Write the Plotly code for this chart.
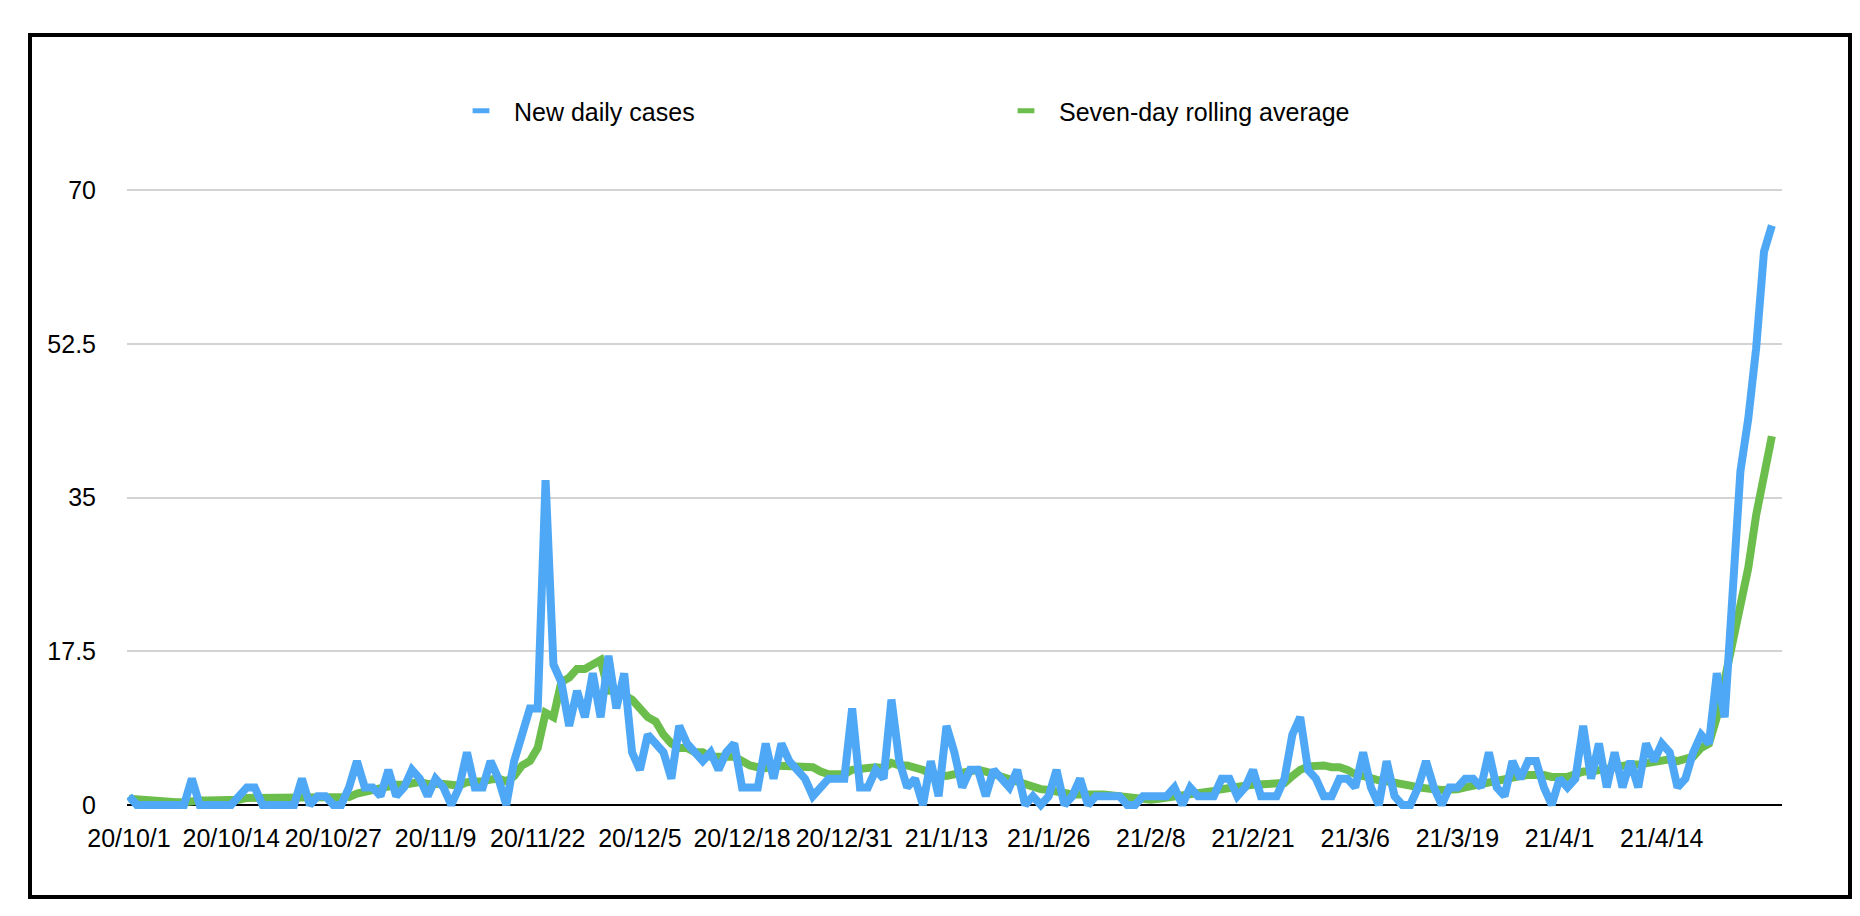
import pandas as pd
import plotly.graph_objects as go

start_date = "2020-10-01"
n_days = 210

new_daily_cases = [
    1, 0, 0, 0, 0, 0, 0, 0, 3, 0,
    0, 0, 0, 0, 1, 2, 2, 0, 0, 0,
    0, 0, 3, 0, 1, 1, 0, 0, 2, 5,
    2, 2, 1, 4, 1, 2, 4, 3, 1, 3,
    2, 0, 2, 6, 2, 2, 5, 3, 0, 5,
    8, 11, 11, 37, 16, 14, 9, 13, 10, 15,
    10, 17, 11, 15, 6, 4, 8, 7, 6, 3,
    9, 7, 6, 5, 6, 4, 6, 7, 2, 2,
    2, 7, 3, 7, 5, 4, 3, 1, 2, 3,
    3, 3, 11, 2, 2, 4, 3, 12, 5, 2,
    3, 0, 5, 1, 9, 6, 2, 4, 4, 1,
    4, 3, 2, 4, 0, 1, 0, 1, 4, 0,
    1, 3, 0, 1, 1, 1, 1, 0, 0, 1,
    1, 1, 1, 2, 0, 2, 1, 1, 1, 3,
    3, 1, 2, 4, 1, 1, 1, 3, 8, 10,
    4, 3, 1, 1, 3, 3, 2, 6, 2, 0,
    5, 1, 0, 0, 2, 5, 2, 0, 2, 2,
    3, 3, 2, 6, 2, 1, 5, 3, 5, 5,
    2, 0, 3, 2, 3, 9, 3, 7, 2, 6,
    2, 5, 2, 7, 5, 7, 6, 2, 3, 6,
    8, 7, 15, 10, 26, 38, 44, 52, 63, 66,
]

seven_day_average = [
    0.7, 0.6, 0.6, 0.6, 0.5, 0.4, 0.3, 0.3, 0.5, 0.5,
    0.5, 0.5, 0.5, 0.5, 0.6, 0.8, 0.8, 0.8, 0.8, 0.7,
    0.7, 0.7, 0.8, 0.7, 0.8, 0.8, 0.7, 0.7, 0.9, 1.3,
    1.5, 1.7, 1.8, 2.2, 2.3, 2.3, 2.4, 2.6, 2.4, 2.5,
    2.4, 2.3, 2.2, 2.6, 2.6, 2.7, 2.9, 3.0, 2.7, 3.3,
    4.5, 5.0, 6.5, 10.5, 10.0, 14.0, 14.5, 15.5, 15.5, 16.0,
    16.5, 13.0, 13.0, 12.5, 12.0, 11.0, 10.0, 9.5, 8.0, 7.0,
    6.5, 6.5, 6.0, 6.0, 5.5, 5.5, 5.5, 5.5, 5.0, 4.5,
    4.3, 4.2, 4.5, 4.5, 4.5, 4.5, 4.5, 4.3, 3.8, 3.5,
    3.5, 3.5, 4.0, 4.0, 4.2, 4.3, 4.2, 4.8, 4.5, 4.5,
    4.3, 4.0, 3.5, 3.3, 3.3, 3.5, 3.7, 3.8, 4.0, 3.8,
    3.5, 3.2, 3.0, 2.8, 2.5, 2.0, 1.8, 1.7, 1.5, 1.3,
    1.2, 1.2, 1.3, 1.2, 1.2, 1.1, 1.1, 1.0, 0.8, 0.6,
    0.6, 0.7, 0.8, 1.0, 1.1, 1.2, 1.3, 1.4, 1.6, 1.8,
    2.0, 2.1, 2.2, 2.3, 2.3, 2.3, 2.4, 2.5, 3.3, 4.0,
    4.4, 4.5, 4.5, 4.3, 4.3, 4.0, 3.5, 3.3, 3.0, 2.8,
    2.7, 2.6, 2.4, 2.2, 2.0, 2.0, 1.8, 1.7, 1.7, 1.8,
    2.0, 2.2, 2.5, 2.7, 2.8, 3.0, 3.1, 3.3, 3.4, 3.5,
    3.4, 3.2, 3.1, 3.2, 3.5, 3.8, 3.8, 4.0, 4.2, 4.3,
    4.5, 4.6, 4.6, 4.7, 4.8, 5.0, 5.2, 5.0, 5.2, 5.5,
    6.5, 7.0, 10.0, 14.0, 18.0, 22.0, 27.0, 33.0, 38.0, 42.0,
]

x_tick_dates = ["2020-10-01", "2020-10-14", "2020-10-27", "2020-11-09", "2020-11-22",
                "2020-12-05", "2020-12-18", "2020-12-31", "2021-01-13", "2021-01-26",
                "2021-02-08", "2021-02-21", "2021-03-06", "2021-03-19", "2021-04-01",
                "2021-04-14"]
x_tick_labels = ["20/10/1", "20/10/14", "20/10/27", "20/11/9", "20/11/22", "20/12/5",
                 "20/12/18", "20/12/31", "21/1/13", "21/1/26", "21/2/8", "21/2/21",
                 "21/3/6", "21/3/19", "21/4/1", "21/4/14"]
y_tick_vals = [0, 17.5, 35, 52.5, 70]
y_tick_labels = ["0", "17.5", "35", "52.5", "70"]

dates = pd.date_range(start_date, periods=n_days, freq="D")

BLUE = "#4fa8f6"
GREEN = "#6bbd4c"
W, H = 1860, 916
ML, MR, MT, MB = 119, 86, 178, 112
FONT = "Liberation Sans, Arial, Helvetica, sans-serif"

fig = go.Figure()
fig.add_trace(go.Scatter(x=dates, y=seven_day_average, mode="lines",
                         line=dict(color=GREEN, width=8), showlegend=False,
                         name="Seven-day rolling average"))
fig.add_trace(go.Scatter(x=dates, y=new_daily_cases, mode="lines",
                         line=dict(color=BLUE, width=8), showlegend=False,
                         name="New daily cases"))
# legend entries
fig.add_trace(go.Scatter(x=[None], y=[None], mode="markers", name="New daily cases",
                         marker=dict(symbol="line-ew", size=12, color=BLUE,
                                     line=dict(width=6, color=BLUE)),
                         legend="legend"))
fig.add_trace(go.Scatter(x=[None], y=[None], mode="markers", name="Seven-day rolling average",
                         marker=dict(symbol="line-ew", size=12, color=GREEN,
                                     line=dict(width=6, color=GREEN)),
                         legend="legend2"))

plot_w = W - ML - MR
plot_h = H - MT - MB

def px_x(p):
    return (p - ML) / plot_w

def px_y(p):
    return (H - MB - p) / plot_h

legend_common = dict(orientation="h", yanchor="middle", xanchor="left",
                     font=dict(family=FONT, size=25, color="#000000"),
                     bgcolor="rgba(0,0,0,0)", itemwidth=56)

fig.update_layout(
    width=W, height=H,
    margin=dict(l=ML, r=MR, t=MT, b=MB),
    paper_bgcolor="white", plot_bgcolor="white",
    font=dict(family=FONT, size=25, color="#000000"),
    legend=dict(x=px_x(440), y=px_y(103), **legend_common),
    legend2=dict(x=px_x(985), y=px_y(103), **legend_common),
    xaxis=dict(
        range=[pd.Timestamp(start_date) - pd.Timedelta(hours=6),
               pd.Timestamp(start_date) + pd.Timedelta(days=n_days - 1, hours=31)],
        tickvals=pd.to_datetime(x_tick_dates), ticktext=x_tick_labels,
        showgrid=False, ticks="outside", ticklen=4, tickcolor="rgba(0,0,0,0)",
        tickfont=dict(family=FONT, size=25, color="#000000"),
        showline=False, zeroline=False,
    ),
    yaxis=dict(
        range=[-0.8, 70.5],
        tickvals=y_tick_vals, ticktext=y_tick_labels,
        showgrid=True, gridcolor="#d3d3d3", gridwidth=1.5,
        zeroline=True, zerolinecolor="#000000", zerolinewidth=2,
        ticks="outside", ticklen=25, tickcolor="rgba(0,0,0,0)",
        tickfont=dict(family=FONT, size=25, color="#000000"),
        showline=False,
    ),
    shapes=[dict(type="rect", xref="paper", yref="paper",
                 x0=px_x(22), x1=px_x(1842), y0=px_y(889), y1=px_y(27),
                 line=dict(color="#000000", width=4), fillcolor="rgba(0,0,0,0)",
                 layer="above")],
)

fig.write_html("out.html")
